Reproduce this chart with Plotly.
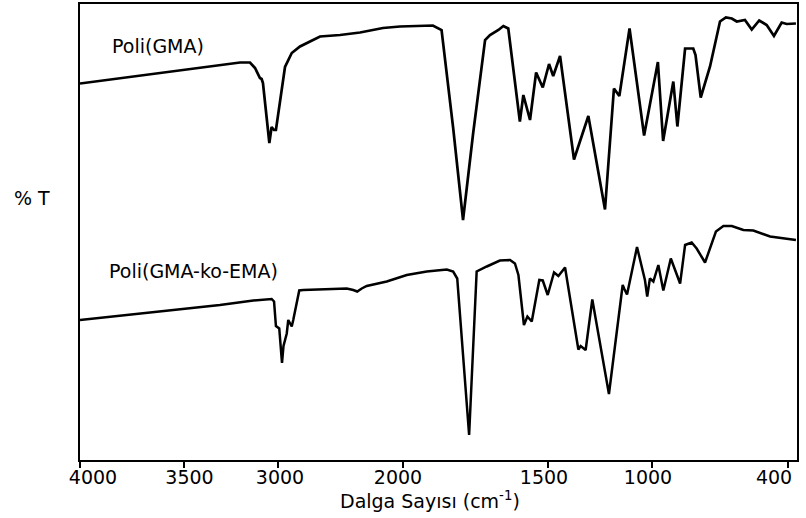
import numpy as np
import plotly.graph_objects as go

# Non-linear wavenumber axis of the original instrument plot
TICK_WN = [4000, 3500, 3000, 2000, 1500, 1000, 400]
TICK_LABELS = ["4000", "3500", "3000", "2000", "1500", "1000", "400"]
TICK_POS = [0, 104, 198, 323, 468, 572, 708]
LABEL_POS = [13, 109.5, 200, 318, 464, 568, 694]   # where the labels sit under the ticks

# Poli(GMA)
gma_wn = [4000, 3202, 3149, 3122, 3096, 3087, 3080, 3060, 3046, 3034, 3021, 3011,
          2984, 2944, 2890, 2824, 2664, 2504, 2344, 2160, 2024, 1897, 1867, 1827,
          1793, 1758, 1717, 1700, 1671, 1654, 1637, 1597, 1585, 1562, 1541, 1518,
          1495, 1475, 1442, 1375, 1306, 1226, 1183, 1157, 1108, 1038, 974, 951,
          906, 888, 854, 818, 808, 785, 744, 700, 674, 648, 626, 607, 590, 560,
          527, 494, 462, 428, 406, 365]
gma_t = [75.3, 79.5, 79.5, 78.4, 76.4, 76.2, 75.4, 68.0, 63.4, 66.6, 66.0, 66.0,
         71.4, 78.6, 81.4, 82.7, 84.7, 85.0, 85.5, 86.4, 86.7, 86.9, 86.0, 66.4,
         48.0, 65.4, 84.0, 85.0, 86.0, 86.8, 86.3, 67.7, 73.0, 68.0, 77.5, 74.5,
         79.2, 76.8, 80.8, 60.1, 68.8, 50.1, 74.3, 72.8, 86.3, 64.9, 79.6, 63.8,
         75.7, 66.7, 82.3, 82.3, 81.0, 72.5, 78.7, 87.7, 88.5, 88.3, 87.7, 87.8,
         88.0, 86.1, 87.9, 87.0, 84.8, 87.5, 87.2, 87.3]

# Poli(GMA-ko-EMA)
ko_wn = [4000, 3309, 3131, 3034, 3021, 3011, 2990, 2976, 2968, 2956, 2930, 2918,
         2890, 2878, 2830, 2798, 2664, 2450, 2398, 2366, 2330, 2290, 2130, 1987,
         1918, 1849, 1827, 1813, 1772, 1746, 1711, 1666, 1631, 1614, 1602, 1583,
         1571, 1556, 1530, 1518, 1501, 1471, 1450, 1418, 1354, 1343, 1319, 1287,
         1207, 1141, 1134, 1120, 1072, 1034, 1023, 1010, 994, 972, 950, 917, 876,
         854, 825, 803, 766, 718, 685, 648, 597, 553, 479, 406, 365]
ko_t = [28.0, 31.0, 31.9, 32.2, 31.7, 26.8, 26.3, 22.7, 19.4, 22.8, 25.3, 28.0,
        26.7, 28.0, 33.9, 34.0, 34.1, 34.3, 34.0, 33.7, 34.3, 34.8, 35.7, 37.0,
        37.7, 38.1, 37.7, 36.3, 5.0, 37.7, 38.7, 39.9, 40.0, 39.3, 37.0, 27.0,
        28.7, 27.7, 36.0, 35.9, 33.0, 37.5, 36.8, 38.5, 22.1, 22.8, 22.0, 32.1,
        13.2, 35.0, 34.3, 33.1, 42.6, 36.0, 32.7, 36.3, 35.7, 39.0, 33.9, 40.3,
        35.3, 43.0, 43.5, 42.3, 39.5, 45.7, 46.8, 46.8, 46.0, 45.9, 44.7, 44.3, 44.0]


def axis_pos(wn):
    """Map wavenumbers onto the piecewise-linear axis of the original plot."""
    xp = [300] + TICK_WN[::-1] + [4100]
    fp = [TICK_POS[-1] + 100 * (TICK_POS[-1] - TICK_POS[-2]) / (TICK_WN[-2] - TICK_WN[-1])] \
        + TICK_POS[::-1] + [-100 * (TICK_POS[1] - TICK_POS[0]) / (TICK_WN[0] - TICK_WN[1])]
    return np.interp(np.asarray(wn, dtype=float), xp, fp)


fig = go.Figure()
fig.add_trace(go.Scatter(x=axis_pos(gma_wn), y=gma_t, mode="lines",
                         line=dict(color="black", width=2.7), name="Poli(GMA)"))
fig.add_trace(go.Scatter(x=axis_pos(ko_wn), y=ko_t, mode="lines",
                         line=dict(color="black", width=2.5), name="Poli(GMA-ko-EMA)"))

font = dict(family="DejaVu Sans", size=19, color="black")

fig.update_layout(
    width=806, height=518,
    margin=dict(l=80, r=9, t=4, b=58, autoexpand=False),
    paper_bgcolor="white", plot_bgcolor="white",
    showlegend=False,
    font=font,
    xaxis=dict(range=[0, 717], tickmode="array", tickvals=TICK_POS, showticklabels=False,
               showgrid=False, zeroline=False, showline=True, linecolor="black",
               linewidth=2, mirror=True, ticks="outside", ticklen=6, tickwidth=2,
               tickcolor="black", automargin=False),
    xaxis2=dict(range=[0, 717], overlaying="x", side="bottom", tickmode="array",
                tickvals=LABEL_POS, ticktext=TICK_LABELS, ticks="", showgrid=False,
                zeroline=False, showline=False, tickfont=font, ticklabelstandoff=4,
                automargin=False),
    yaxis=dict(range=[0, 91.2], showticklabels=False, showgrid=False, zeroline=False,
               showline=True, linecolor="black", linewidth=2, mirror=True, ticks="",
               automargin=False),
    annotations=[
        dict(text="Poli(GMA)", x=0.042, y=0.907, xref="paper", yref="paper",
             xanchor="left", yanchor="middle", showarrow=False, font=font),
        dict(text="Poli(GMA-ko-EMA)", x=0.038, y=0.4145, xref="paper", yref="paper",
             xanchor="left", yanchor="middle", showarrow=False, font=font),
        dict(text="% T", x=-0.095, y=0.5746, xref="paper", yref="paper",
             xanchor="left", yanchor="middle", showarrow=False, font=font),
        dict(text="Dalga Sayısı (cm<sup>-1</sup>)", x=0.488, y=-0.0877, xref="paper",
             yref="paper", xanchor="center", yanchor="middle", showarrow=False, font=font),
    ],
)
# invisible helper trace so the label axis is drawn
fig.add_trace(go.Scatter(x=[None], y=[None], xaxis="x2", showlegend=False, hoverinfo="skip"))

fig.write_html("out.html", config={"displayModeBar": False},
               post_script="document.body.style.margin='0';document.body.style.overflow='hidden';")
